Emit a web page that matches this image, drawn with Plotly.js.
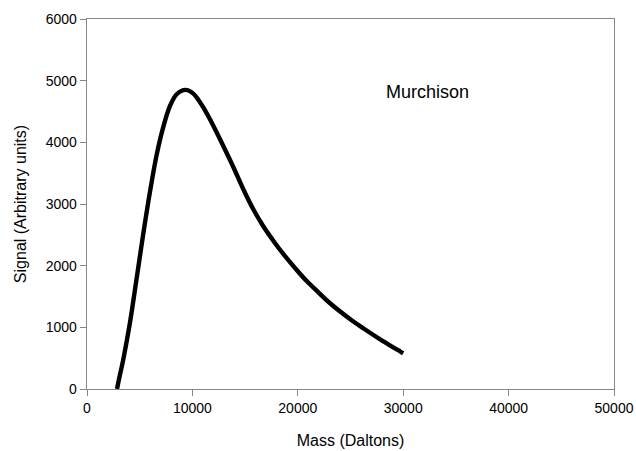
<!DOCTYPE html>
<html>
<head>
<meta charset="utf-8">
<script src="https://cdn.plot.ly/plotly-3.0.1.min.js"></script>
<style>html,body{margin:0;padding:0;background:#fff;}#chart{width:636px;height:451px;}</style>
</head>
<body>
<div id="chart"></div>
<script>
// Mass (Daltons)
const mass = [2850, 3000, 3444, 4080, 4715, 5342, 5977, 6613, 7239, 7875, 8510, 9350, 10085, 10560, 11034, 11983, 12932, 13880, 14829, 15778, 16727, 17676, 18624, 19896, 20845, 22000, 23060, 24950, 26210, 28000, 29700, 30000];
// Signal (Arbitrary units)
const signal = [0, 130, 480, 1080, 1800, 2520, 3200, 3800, 4250, 4590, 4780, 4850, 4790, 4690, 4565, 4270, 3940, 3600, 3240, 2915, 2640, 2405, 2190, 1930, 1750, 1560, 1390, 1135, 985, 785, 610, 580];
const label = "Murchison";

const axisColor = "#868686";
const font = {family: "Liberation Sans, Arial, sans-serif", color: "#000"};

Plotly.newPlot("chart", [{
  x: mass, y: signal, type: "scatter", mode: "lines",
  line: {color: "#000", width: 4.4, shape: "spline", smoothing: 1},
  hoverinfo: "skip"
}], {
  width: 636, height: 451,
  margin: {l: 87, r: 22, t: 19, b: 62},
  paper_bgcolor: "#fff", plot_bgcolor: "#fff",
  showlegend: false,
  font: Object.assign({size: 13}, font),
  xaxis: {
    range: [0, 50000], tickvals: [0, 10000, 20000, 30000, 40000, 50000],
    ticktext: ["0", "10000", "20000", "30000", "40000", "50000"],
    showgrid: false, zeroline: false, showline: true, mirror: true,
    linecolor: axisColor, linewidth: 1.3, ticks: "outside", ticklen: 6, tickcolor: axisColor,
    tickfont: Object.assign({size: 14}, font),
    title: {text: "Mass (Daltons)", font: Object.assign({size: 16}, font), standoff: 19}
  },
  yaxis: {
    range: [0, 6000], tickvals: [0, 1000, 2000, 3000, 4000, 5000, 6000],
    ticktext: ["0", "1000", "2000", "3000", "4000", "5000", "6000"],
    showgrid: false, zeroline: false, showline: true, mirror: true,
    linecolor: axisColor, linewidth: 1.3, ticks: "outside", ticklen: 6, tickcolor: axisColor,
    tickfont: Object.assign({size: 14}, font),
    title: {text: "Signal (Arbitrary units)", font: Object.assign({size: 16}, font), standoff: 15}
  },
  annotations: [{
    x: 32350, y: 4820, xref: "x", yref: "y", text: label, showarrow: false,
    font: Object.assign({size: 18}, font)
  }]
}, {staticPlot: true});
</script>
</body>
</html>
